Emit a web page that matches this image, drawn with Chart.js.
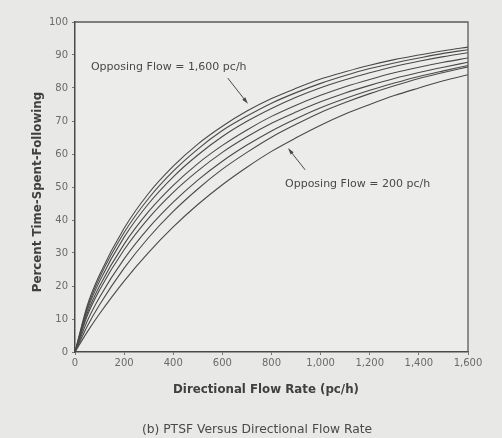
<!DOCTYPE html>
<html>
<head>
<meta charset="utf-8">
<script src="https://cdn.jsdelivr.net/npm/chart.js@4.4.1/dist/chart.umd.min.js"></script>
<style>
html,body{margin:0;padding:0;background:#e8e8e6}
#wrap{width:502px;height:438px;position:relative}
</style>
</head>
<body>
<div id="wrap"><canvas id="c"></canvas></div>
<script>
// directional flow rate (pc/h)
const flowRates = [0,50,100,200,300,400,500,600,700,800,900,1000,1100,1200,1300,1400,1500,1600]
const xTickValues = [0,200,400,600,800,1000,1200,1400,1600]
const xTickLabels = ['0','200','400','600','800','1,000','1,200','1,400','1,600']
const yTickValues = [0,10,20,30,40,50,60,70,80,90,100]

// percent time-spent-following, one curve per opposing flow
const opposingFlows = [200,400,600,800,1000,1200,1400,1600]
const ptsf200  = [0,6.1,11.6,21.5,30.2,37.9,44.7,50.7,56.0,60.8,64.9,68.7,72.1,75.0,77.7,80.0,82.2,84.0]
const ptsf400  = [0,7.8,14.3,25.4,34.7,42.6,49.4,55.4,60.5,65.1,69.0,72.6,75.6,78.3,80.7,82.9,84.7,86.4]
const ptsf600  = [0,9.4,16.6,28.2,37.6,45.4,52.1,57.8,62.7,67.0,70.7,74.0,76.8,79.3,81.5,83.5,85.2,86.8]
const ptsf800  = [0,11.0,18.8,31.0,40.6,48.4,54.9,60.5,65.2,69.3,72.7,75.8,78.5,80.8,82.9,84.7,86.3,87.8]
const ptsf1000 = [0,11.8,20.0,32.7,42.6,50.5,57.1,62.6,67.3,71.4,74.8,77.8,80.4,82.6,84.6,86.3,87.8,89.1]
const ptsf1200 = [0,12.7,21.4,34.8,45.0,53.1,59.7,65.3,69.9,73.8,77.2,80.1,82.5,84.6,86.5,88.1,89.5,90.7]
const ptsf1400 = [0,13.4,22.5,36.2,46.6,54.8,61.5,67.1,71.5,75.4,78.6,81.4,83.8,85.9,87.6,89.1,90.5,91.6]
const ptsf1600 = [0,14.1,23.4,37.5,48.1,56.3,63.0,68.4,73.0,76.8,79.9,82.7,84.9,86.9,88.6,90.0,91.3,92.4]
const curves = [ptsf200,ptsf400,ptsf600,ptsf800,ptsf1000,ptsf1200,ptsf1400,ptsf1600]

// callouts, placed in data units
const notes = [
  {text:'Opposing Flow = 1,600 pc/h', tx:65, ty:86.4, from:[622,83], to:[704,75.2]},
  {text:'Opposing Flow = 200 pc/h', tx:855, ty:50.9, from:[937,55.2], to:[867,61.8]}
]

const 线色 = '#4a4a4a'
const 字色 = '#6a6a6a'

const 数据集 = curves.map((ys,i)=>({
  label:'Opposing '+opposingFlows[i],
  data:flowRates.map((x,j)=>({x:x,y:ys[j]})),
  borderColor:线色,
  borderWidth:1.1,
  pointRadius:0,
  fill:false,
  cubicInterpolationMode:'monotone'
}))

function 箭头(ctx,x1,y1,x2,y2){
  const a = Math.atan2(y2-y1,x2-x1)
  ctx.beginPath()
  ctx.moveTo(x1,y1)
  ctx.lineTo(x2-Math.cos(a)*4,y2-Math.sin(a)*4)
  ctx.stroke()
  ctx.beginPath()
  ctx.moveTo(x2,y2)
  ctx.lineTo(x2-7*Math.cos(a-0.28),y2-7*Math.sin(a-0.28))
  ctx.lineTo(x2-7*Math.cos(a+0.28),y2-7*Math.sin(a+0.28))
  ctx.closePath()
  ctx.fill()
}

const 装饰 = {
  id:'deco',
  beforeDraw(chart){
    const ctx = chart.ctx
    ctx.save()
    ctx.fillStyle = '#e8e8e6'
    ctx.fillRect(0,0,chart.width,chart.height)
    const a = chart.chartArea
    ctx.fillStyle = '#ececea'
    ctx.fillRect(a.left,a.top,a.right-a.left,a.bottom-a.top)
    ctx.restore()
  },
  afterDraw(chart){
    const ctx = chart.ctx
    const a = chart.chartArea
    const xs = chart.scales.x, ys = chart.scales.y
    ctx.save()
    // frame top and right
    ctx.strokeStyle = '#5a5a5a'
    ctx.lineWidth = 1.3
    ctx.beginPath()
    ctx.moveTo(a.left,a.top)
    ctx.lineTo(a.right,a.top)
    ctx.lineTo(a.right,a.bottom)
    ctx.stroke()
    // callouts
    ctx.fillStyle = '#484848'
    ctx.strokeStyle = '#484848'
    ctx.lineWidth = 1
    ctx.font = '11px "DejaVu Sans"'
    ctx.textBaseline = 'middle'
    ctx.textAlign = 'left'
    notes.forEach(n=>{
      ctx.fillText(n.text,xs.getPixelForValue(n.tx),ys.getPixelForValue(n.ty))
      箭头(ctx,xs.getPixelForValue(n.from[0]),ys.getPixelForValue(n.from[1]),xs.getPixelForValue(n.to[0]),ys.getPixelForValue(n.to[1]))
    })
    // axis titles
    ctx.fillStyle = '#404040'
    ctx.font = 'bold 11.8px "DejaVu Sans"'
    ctx.textAlign = 'center'
    ctx.fillText('Directional Flow Rate (pc/h)',266,390)
    ctx.save()
    ctx.translate(38,192)
    ctx.rotate(-Math.PI/2)
    ctx.fillText('Percent Time-Spent-Following',0,0)
    ctx.restore()
    // caption
    ctx.fillStyle = '#4a4a4a'
    ctx.font = '12.3px "DejaVu Sans"'
    ctx.fillText('(b) PTSF Versus Directional Flow Rate',257,430)
    ctx.restore()
  }
}

new Chart(document.getElementById('c'),{
  type:'line',
  data:{datasets:数据集},
  options:{
    responsive:true,
    maintainAspectRatio:false,
    animation:false,
    layout:{padding:{left:0,right:34,top:22,bottom:0}},
    plugins:{legend:{display:false},tooltip:{enabled:false}},
    scales:{
      x:{
        type:'linear',min:0,max:1600,
        afterBuildTicks(s){s.ticks = xTickValues.map(v=>({value:v}))},
        afterFit(s){s.height = 86},
        ticks:{
          color:字色,font:{family:'DejaVu Sans',size:10},padding:2,maxRotation:0,autoSkip:false,
          callback:(v)=>xTickLabels[xTickValues.indexOf(v)]
        },
        grid:{display:true,drawOnChartArea:false,drawTicks:true,tickLength:3,color:'#777'},
        border:{display:true,color:'#4a4a4a',width:1.5}
      },
      y:{
        type:'linear',min:0,max:100,
        afterBuildTicks(s){s.ticks = yTickValues.map(v=>({value:v}))},
        afterFit(s){s.width = 75},
        ticks:{color:字色,font:{family:'DejaVu Sans',size:10},padding:4,autoSkip:false},
        grid:{display:true,drawOnChartArea:false,drawTicks:true,tickLength:3,color:'#777'},
        border:{display:true,color:'#4a4a4a',width:1.5}
      }
    }
  },
  plugins:[装饰]
})
</script>
</body>
</html>
